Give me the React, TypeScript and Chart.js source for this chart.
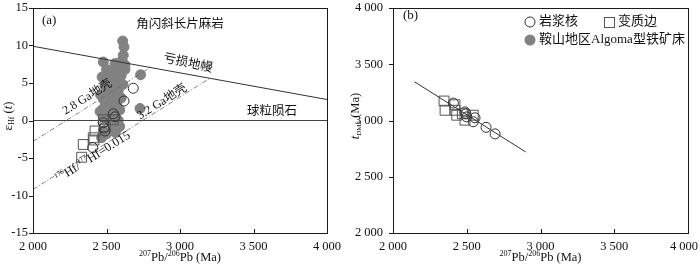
import React, { useEffect, useRef } from "react";
import { Chart, registerables } from "chart.js";
Chart.register(...registerables);

// ---- tick values ----
const ageTicks = [2000, 2500, 3000, 3500, 4000];
const epsTicks = [-15, -10, -5, 0, 5, 10, 15];
const tdmTicks = [2000, 2500, 3000, 3500, 4000];

// ---- panel (a): εHf(t) vs age ----
const anshanAge = [2610, 2619, 2614, 2606, 2478, 2558, 2626, 2600, 2626, 2530, 2524, 2580, 2600, 2732, 2544, 2510, 2570, 2544, 2612, 2490, 2524, 2580, 2500, 2558, 2600, 2524, 2480, 2570, 2478, 2510, 2558, 2728, 2456, 2590, 2540, 2480, 2524, 2580, 2558, 2544, 2478, 2467, 2500, 2560, 2590, 2470, 2500, 2540, 2560, 2460];
const anshanEps = [10.6, 9.8, 8.7, 8.0, 7.8, 7.6, 7.4, 7.2, 6.8, 6.6, 6.3, 6.4, 6.0, 6.1, 5.6, 5.4, 5.2, 5.0, 4.8, 4.6, 4.2, 4.0, 3.6, 3.3, 3.0, 2.5, 2.8, 2.2, 1.6, 1.2, 1.6, 1.6, 1.2, 1.4, 0.6, 0.4, -0.1, 0.0, -0.5, -1.2, -1.4, -2.3, -1.8, -1.6, -0.8, 5.8, 6.8, 3.8, 2.8, 3.4];
const coreAgeA = [2682, 2619, 2546, 2558, 2478, 2483, 2490, 2406];
const coreEpsA = [4.3, 2.6, 0.9, 0.5, -0.3, -1.0, -1.4, -3.6];
const rimAgeA = [2331, 2342, 2410, 2415, 2422, 2478, 2546, 2490];
const rimEpsA = [-4.9, -3.2, -2.3, -2.6, -1.4, 0.1, 0.1, -0.8];

// reference lines in (a)
const dmAge = [2000, 4000];
const dmEps = [9.9, 2.8];
const churAge = [2000, 4000];
const churEps = [0, 0];
const crust28Age = [2000, 2800];
const crust28Eps = [-2.8, 7.1];
const crust32Age = [2000, 3200];
const crust32Eps = [-9.2, 5.6];

// ---- panel (b): tDM2 vs age ----
const coreAgeB = [2409, 2488, 2495, 2500, 2544, 2556, 2631, 2692];
const coreTdm = [3155, 3076, 3060, 3032, 2989, 3024, 2939, 2881];
const rimAgeB = [2346, 2353, 2420, 2420, 2432, 2488, 2544, 2470];
const rimTdm = [3173, 3091, 3140, 3091, 3047, 3003, 3047, 3060];
const trendAge = [2145, 2900];
const trendTdm = [3345, 2720];

const FONT = "'Liberation Serif', 'Noto Sans CJK SC', serif";
const TXT = "#111";

const zip = (xs: number[], ys: number[]) => xs.map((x, i) => ({ x, y: ys[i] }));
const fmt = (v: number) =>
  Math.abs(v) >= 1000 ? `${Math.floor(v / 1000)} ${String(v % 1000).padStart(3, "0")}` : String(v);

type Seg = { t: string; size: number; dy?: number; italic?: boolean };
function drawRich(
  ctx: CanvasRenderingContext2D,
  segs: Seg[],
  x: number,
  y: number,
  angle: number,
  align: "left" | "center" | "right"
) {
  ctx.save();
  ctx.translate(x, y);
  ctx.rotate(angle);
  ctx.fillStyle = TXT;
  ctx.textBaseline = "middle";
  ctx.textAlign = "left";
  const f = (s: Seg) => `${s.italic ? "italic " : ""}${s.size}px ${FONT}`;
  let w = 0;
  for (const s of segs) {
    ctx.font = f(s);
    w += ctx.measureText(s.t).width;
  }
  let cx = align === "center" ? -w / 2 : align === "right" ? -w : 0;
  for (const s of segs) {
    ctx.font = f(s);
    ctx.fillText(s.t, cx, s.dy || 0);
    cx += ctx.measureText(s.t).width;
  }
  ctx.restore();
}

function framePlugin(extra: (chart: any, ctx: CanvasRenderingContext2D) => void, xTickVals: number[], yTickVals: number[]) {
  return {
    id: "frame",
    afterDatasetsDraw(chart: any) {
      const ctx: CanvasRenderingContext2D = chart.ctx;
      const { left, right, top, bottom } = chart.chartArea;
      const xs = chart.scales.x;
      const ys = chart.scales.y;
      ctx.save();
      ctx.strokeStyle = "#1a1a1a";
      ctx.lineWidth = 1;
      ctx.strokeRect(Math.round(left) + 0.5, Math.round(top) + 0.5, Math.round(right - left), Math.round(bottom - top));
      ctx.beginPath();
      for (const v of xTickVals) {
        const px = Math.round(xs.getPixelForValue(v)) + 0.5;
        ctx.moveTo(px, bottom);
        ctx.lineTo(px, bottom - 4);
      }
      for (const v of yTickVals) {
        const py = Math.round(ys.getPixelForValue(v)) + 0.5;
        ctx.moveTo(left, py);
        ctx.lineTo(left - 4, py);
      }
      ctx.stroke();
      // x tick labels (last one kept inside the canvas)
      ctx.font = `12.5px ${FONT}`;
      ctx.fillStyle = TXT;
      ctx.textBaseline = "middle";
      ctx.textAlign = "left";
      const W = chart.width;
      for (const v of xTickVals) {
        const label = fmt(v);
        const w = ctx.measureText(label).width;
        let x0 = xs.getPixelForValue(v) - w / 2;
        if (x0 + w > W - 2) x0 = W - 2 - w;
        ctx.fillText(label, x0, bottom + 14);
      }
      ctx.restore();
      extra(chart, ctx);
    },
  };
}

function xTitle(ctx: CanvasRenderingContext2D, cx: number, y: number) {
  drawRich(
    ctx,
    [
      { t: "207", size: 8, dy: -4 },
      { t: "Pb/", size: 12.5 },
      { t: "206", size: 8, dy: -4 },
      { t: "Pb (Ma)", size: 12.5 },
    ],
    cx,
    y,
    0,
    "center"
  );
}

function baseScales(yMin: number, yMax: number, yTicks: number[], yWidth: number, yPad: number) {
  return {
    x: {
      type: "linear",
      min: 2000,
      max: 4000,
      afterBuildTicks: (s: any) => {
        s.ticks = ageTicks.map((v) => ({ value: v }));
      },
      ticks: { display: false },
      grid: { display: false, drawTicks: false },
      border: { display: false },
      afterFit: (s: any) => {
        s.height = 38;
        s.paddingLeft = 0;
        s.paddingRight = 0;
      },
    },
    y: {
      type: "linear",
      min: yMin,
      max: yMax,
      afterBuildTicks: (s: any) => {
        s.ticks = yTicks.map((v) => ({ value: v }));
      },
      ticks: { callback: (v: any) => fmt(Number(v)), font: { family: FONT, size: 12.5 }, color: TXT, padding: yPad, autoSkip: false },
      grid: { display: false, drawTicks: false },
      border: { display: false },
      afterFit: (s: any) => {
        s.width = yWidth;
        s.paddingTop = 0;
        s.paddingBottom = 0;
      },
    },
  };
}

const lineDs = (xs: number[], ys: number[], color: string, width: number, dash: number[] = []) => ({
  data: zip(xs, ys),
  showLine: true,
  borderColor: color,
  borderWidth: width,
  borderDash: dash,
  pointRadius: 0,
  fill: false,
  order: 0,
});

export default function App() {
  const refA = useRef<HTMLCanvasElement>(null);
  const refB = useRef<HTMLCanvasElement>(null);

  useEffect(() => {
    const extraA = (chart: any, ctx: CanvasRenderingContext2D) => {
      const xs = chart.scales.x;
      const ys = chart.scales.y;
      const P = (x: number, y: number) => [xs.getPixelForValue(x), ys.getPixelForValue(y)];
      const ang = (ax: number[], ay: number[]) => {
        const [x1, y1] = P(ax[0], ay[0]);
        const [x2, y2] = P(ax[1], ay[1]);
        return Math.atan2(y2 - y1, x2 - x1);
      };
      let p = P(2061, 13.3);
      drawRich(ctx, [{ t: "(a)", size: 13 }], p[0], p[1], 0, "left");
      p = P(3000, 12.8);
      drawRich(ctx, [{ t: "角闪斜长片麻岩", size: 12.5 }], p[0], p[1], 0, "center");
      p = P(3054, 7.6);
      drawRich(ctx, [{ t: "亏损地幔", size: 12.5 }], p[0], p[1], ang(dmAge, dmEps) + 0.03, "center");
      p = P(2370, 3.1);
      drawRich(ctx, [{ t: "2.8 Ga地壳", size: 12 }], p[0], p[1], ang(crust28Age, crust28Eps), "center");
      p = P(2877, 2.46);
      drawRich(ctx, [{ t: "3.2 Ga地壳", size: 12 }], p[0], p[1], ang(crust32Age, crust32Eps), "center");
      p = P(2408, -4.9);
      drawRich(
        ctx,
        [
          { t: "176", size: 7, dy: -4 },
          { t: "Hf/", size: 12.5 },
          { t: "177", size: 7, dy: -4 },
          { t: "Hf=0.015", size: 12.5 },
        ],
        p[0],
        p[1],
        ang(crust32Age, crust32Eps),
        "center"
      );
      p = P(3626, 1.16);
      drawRich(ctx, [{ t: "球粒陨石", size: 12.5 }], p[0], p[1], 0, "center");
      xTitle(ctx, (chart.chartArea.left + chart.chartArea.right) / 2, 258);
      drawRich(
        ctx,
        [
          { t: "ε", size: 13 },
          { t: "Hf", size: 8, dy: 3 },
          { t: " (", size: 12.5 },
          { t: "t", size: 12.5, italic: true },
          { t: ")", size: 12.5 },
        ],
        9,
        116,
        -Math.PI / 2,
        "center"
      );
    };

    const chartA = new Chart(refA.current as HTMLCanvasElement, {
      type: "scatter",
      data: {
        datasets: [
          lineDs(dmAge, dmEps, "#333", 1),
          lineDs(churAge, churEps, "#444", 1),
          lineDs(crust28Age, crust28Eps, "#666", 0.8, [5, 2, 1, 2]),
          lineDs(crust32Age, crust32Eps, "#666", 0.8, [5, 2, 1, 2]),
          {
            data: zip(coreAgeA, coreEpsA),
            pointStyle: "circle",
            pointRadius: 5,
            backgroundColor: "rgba(255,255,255,0)",
            borderColor: "#333",
            borderWidth: 1,
            order: 1,
          },
          {
            data: zip(rimAgeA, rimEpsA),
            pointStyle: "rect",
            pointRadius: 7,
            backgroundColor: "rgba(255,255,255,0)",
            borderColor: "#555",
            borderWidth: 1,
            order: 2,
          },
          {
            data: zip(anshanAge, anshanEps),
            pointStyle: "circle",
            pointRadius: 5,
            backgroundColor: "#828282",
            borderColor: "#828282",
            borderWidth: 1,
            order: 3,
          },
        ] as any,
      },
      options: {
        animation: false,
        responsive: false,
        events: [],
        layout: { padding: { top: 5, right: 23, left: 0, bottom: 0 } },
        plugins: { legend: { display: false }, tooltip: { enabled: false } },
        scales: baseScales(-15, 15, epsTicks, 33, 5) as any,
      },
      plugins: [framePlugin(extraA, ageTicks, epsTicks)],
    });

    const extraB = (chart: any, ctx: CanvasRenderingContext2D) => {
      drawRich(ctx, [{ t: "(b)", size: 13 }], 53, 16, 0, "left");
      // legend
      ctx.save();
      ctx.strokeStyle = "#333";
      ctx.lineWidth = 1;
      ctx.beginPath();
      ctx.arc(180, 22, 5, 0, Math.PI * 2);
      ctx.stroke();
      ctx.strokeStyle = "#555";
      ctx.strokeRect(254.5, 17.5, 10, 10);
      ctx.fillStyle = "#828282";
      ctx.beginPath();
      ctx.arc(180, 40, 5.5, 0, Math.PI * 2);
      ctx.fill();
      ctx.restore();
      drawRich(ctx, [{ t: "岩浆核", size: 13 }], 189, 22, 0, "left");
      drawRich(ctx, [{ t: "变质边", size: 13 }], 268, 22, 0, "left");
      drawRich(ctx, [{ t: "鞍山地区Algoma型铁矿床", size: 13 }], 189, 40, 0, "left");
      xTitle(ctx, (chart.chartArea.left + chart.chartArea.right) / 2, 258);
      drawRich(
        ctx,
        [
          { t: "t", size: 12.5, italic: true },
          { t: "DM2", size: 7, dy: 3 },
          { t: " (Ma)", size: 12.5 },
        ],
        6,
        116,
        -Math.PI / 2,
        "center"
      );
    };

    const chartB = new Chart(refB.current as HTMLCanvasElement, {
      type: "scatter",
      data: {
        datasets: [
          lineDs(trendAge, trendTdm, "#333", 1),
          {
            data: zip(coreAgeB, coreTdm),
            pointStyle: "circle",
            pointRadius: 5,
            backgroundColor: "rgba(255,255,255,0)",
            borderColor: "#333",
            borderWidth: 1,
            order: 1,
          },
          {
            data: zip(rimAgeB, rimTdm),
            pointStyle: "rect",
            pointRadius: 7,
            backgroundColor: "rgba(255,255,255,0)",
            borderColor: "#555",
            borderWidth: 1,
            order: 2,
          },
        ] as any,
      },
      options: {
        animation: false,
        responsive: false,
        events: [],
        layout: { padding: { top: 5, right: 12, left: 0, bottom: 0 } },
        plugins: { legend: { display: false }, tooltip: { enabled: false } },
        scales: baseScales(2000, 4000, tdmTicks, 43, 10) as any,
      },
      plugins: [framePlugin(extraB, ageTicks, tdmTicks)],
    });

    return () => {
      chartA.destroy();
      chartB.destroy();
    };
  }, []);

  return (
    <div style={{ position: "fixed", left: 0, top: 0, width: 700, height: 271, background: "#fff" }}>
      <canvas ref={refA} width={350} height={271} style={{ position: "absolute", left: 0, top: 0, width: 350, height: 271 }} />
      <canvas ref={refB} width={350} height={271} style={{ position: "absolute", left: 350, top: 0, width: 350, height: 271 }} />
    </div>
  );
}
